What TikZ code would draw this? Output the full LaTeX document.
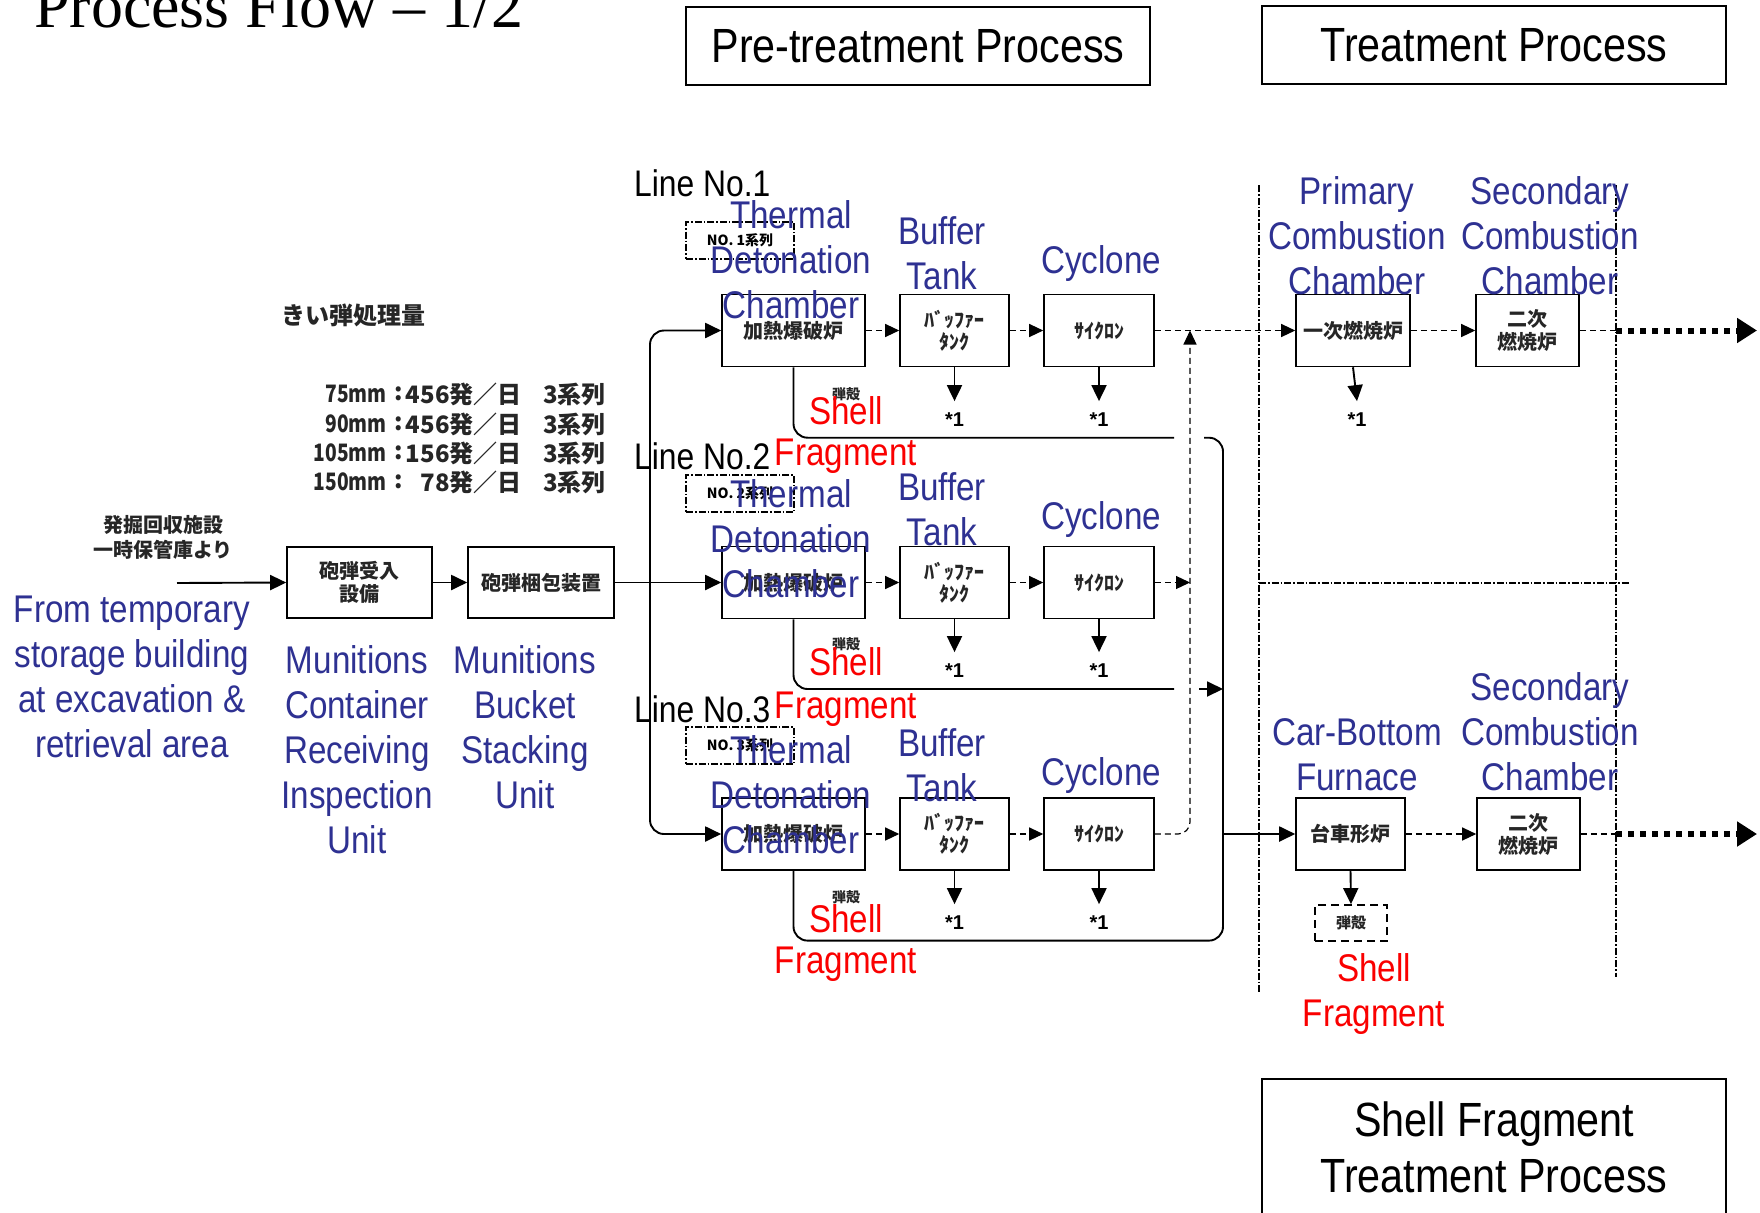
\documentclass[tikz,border=0pt]{standalone}
\usepackage{fontspec}
\setmainfont{Liberation Sans}
\newfontfamily\mynar[FakeStretch=0.86]{Liberation Sans}
\newfontfamily\myserif{Liberation Serif}
\newfontfamily\myjp{Noto Sans CJK JP}
\newfontfamily\myjpn[FakeStretch=0.8]{Noto Sans CJK JP}
\usetikzlibrary{arrows.meta}
\definecolor{lblue}{RGB}{46,49,146}
\definecolor{lred}{RGB}{250,0,0}
\tikzset{
  jbox/.style={draw, line width=1.6pt, inner sep=0pt, align=center, text=black!85,
    font=\myjp\bfseries\fontsize{20}{23}\selectfont, minimum height=72pt},
  hbox/.style={draw, line width=1.8pt, inner sep=0pt, minimum width=464pt, minimum height=78pt,
    font=\mynar\fontsize{48}{56}\selectfont},
  conn/.style={line width=1.9pt, -{Triangle[length=16pt,width=15pt]}},
  plainln/.style={line width=1.9pt},
  dsh/.style={line width=1.2pt, dash pattern=on 6pt off 4pt},
  dsharr/.style={dsh, -{Triangle[length=14pt,width=13pt]}},
  thickdot/.style={line width=6pt, dash pattern=on 6pt off 6pt, -{Triangle[length=20pt,width=24pt]}},
  sepline/.style={line width=1.1pt, dash pattern=on 7pt off 2pt on 1.5pt off 2pt},
  nobox/.style={draw, line width=1.1pt, dash pattern=on 7pt off 2pt on 1.5pt off 2pt,
    minimum width=108pt, minimum height=37pt, inner sep=0pt, font=\myjp\bfseries\fontsize{14}{14}\selectfont},
  lab/.style={text=lblue, font=\mynar\fontsize{38.6}{45}\selectfont, align=center, inner sep=0pt},
  rlab/.style={text=lred, font=\mynar\fontsize{38.6}{45}\selectfont, align=center, inner sep=0pt},
  blk/.style={text=black, font=\mynar\fontsize{37}{45}\selectfont, inner sep=0pt},
  ast/.style={font=\bfseries\fontsize{20}{20}\selectfont, inner sep=2pt, outer sep=10pt},
  jsm/.style={font=\myjp\bfseries\fontsize{14}{14}\selectfont, inner sep=0pt, text=black!85},
  jtxt/.style={font=\myjp\bfseries\fontsize{24}{30}\selectfont, inner sep=0pt, text=black!85},
  mmtxt/.style={font=\myjpn\bfseries\fontsize{24}{30}\selectfont, inner sep=0pt, text=black!85},
}
\begin{document}
\begin{tikzpicture}[x=1pt,y=-1pt]
\fill[white] (0,0) rectangle (1760,1212);
\useasboundingbox (0,0) rectangle (1760,1212);

% title and headers
\node[anchor=base west, inner sep=0pt, font=\myserif\fontsize{64}{64}\selectfont] (title) at (34,28) {Process Flow – 1/2};
\node[hbox] (pre) at (918,46) {Pre-treatment Process};
\node[hbox] (trt) at (1494,45) {Treatment Process};
\draw[line width=1.8pt] (1262,1079) rectangle (1726,1262);
\node[align=center, inner sep=0pt, font=\mynar\fontsize{48}{56}\selectfont] (sft) at (1494,1147) {Shell Fragment\\Treatment Process};

% throughput text
\node[jtxt, anchor=west] (qt) at (281,315) {きい弾処理量};
\foreach \y/\a/\b in {394/75mm/456, 424/90mm/456, 453/105mm/156, 482/150mm/78}{
  \node[mmtxt, anchor=east] at (387,\y) {\a};
  \node[jtxt] at (399,\y) {:};
  \node[jtxt, anchor=east] at (522,\y) {\b 発／日};
  \node[jtxt, anchor=west] at (543,\y) {3系列};
}
\node[align=center, font=\myjp\bfseries\fontsize{20}{25}\selectfont, inner sep=0pt, text=black!85] (src) at (163,537) {発掘回収施設\\一時保管庫より};

% separators
\draw[sepline] (1259,185) -- (1259,993);
\draw[sepline] (1616,185) -- (1616,977);
\draw[sepline] (1259,583) -- (1630,583);

% left boxes
\node[jbox, minimum width=145pt, minimum height=71pt] (recv) at (359.5,582.5) {砲弾受入\\設備};
\node[jbox, minimum width=146pt, minimum height=71pt] (pack) at (541,582.5) {砲弾梱包装置};

% line boxes
\foreach \r/\y in {1/330.5, 2/582.5, 3/834}{
  \node[jbox, minimum width=143pt] (d\r) at (793.5,\y) {加熱爆破炉};
  \node[jbox, minimum width=109pt, font=\myjp\bfseries\fontsize{20}{22}\selectfont] (b\r) at (954.5,\y) {ﾊﾞｯﾌｧｰ\\ﾀﾝｸ};
  \node[jbox, minimum width=110pt] (c\r) at (1099,\y) {ｻｲｸﾛﾝ};
  \draw[dsharr] (d\r.east) -- (b\r.west);
  \draw[dsharr] (b\r.east) -- (c\r.west);
}
\node[nobox] (n1) at (740,240.5) {NO. 1系列};
\node[nobox] (n2) at (740,493.5) {NO. 2系列};
\node[nobox] (n3) at (740,745.5) {NO. 3系列};

% *1 outputs
\node[ast] (ab1) at (954.5,420) {*1};
\node[ast] (ac1) at (1099,420) {*1};
\node[ast] (ab2) at (954.5,671) {*1};
\node[ast] (ac2) at (1099,671) {*1};
\node[ast] (ab3) at (954.5,923) {*1};
\node[ast] (ac3) at (1099,923) {*1};
\foreach \r in {1,2,3}{
  \draw[conn] (b\r.south) -- (ab\r.north);
  \draw[conn] (c\r.south) -- (ac\r.north);
}
\node[jsm] (k1) at (846,394) {弾殻};
\node[jsm] (k2) at (846,644) {弾殻};
\node[jsm] (k3) at (846,897) {弾殻};

% treatment boxes
\node[jbox, minimum width=114pt] (p1) at (1353,330.5) {一次燃焼炉};
\node[jbox, minimum width=103pt, font=\myjp\bfseries\fontsize{20}{23}\selectfont] (s1) at (1527.5,330.5) {二次\\燃焼炉};
\node[jbox, minimum width=109pt] (cb) at (1350.5,834) {台車形炉};
\node[jbox, minimum width=103pt, font=\myjp\bfseries\fontsize{20}{23}\selectfont] (s3) at (1528.5,834) {二次\\燃焼炉};
\node[draw, line width=1.8pt, dash pattern=on 8pt off 5pt, minimum width=72pt, minimum height=36pt, inner sep=0pt,
  font=\myjp\bfseries\fontsize{15}{15}\selectfont, text=black!85] (shb) at (1351,923) {弾殻};
\node[ast] (ap1) at (1357,420) {*1};

% coordinates
\coordinate (in) at (177,583);
\coordinate (bus) at (650,582.5);
\coordinate (g1a) at (1174,437.7);
\coordinate (g1b) at (1204,437.7);
\coordinate (g2a) at (1174,689);
\coordinate (g2b) at (1199,689);
\coordinate (g2c) at (1223,689);
\coordinate (brc) at (1223,940.6);
\coordinate (cbj) at (1223,834);
\coordinate (j1) at (1190,330.5);
\coordinate (j2) at (1190,582.5);
\coordinate (o1) at (1616,330.5);
\coordinate (e1) at (1757,330.5);
\coordinate (o3) at (1616,834);
\coordinate (e3) at (1757,834);

% solid connectors
\draw[conn] (in) -- (recv.west);
\draw[conn] (recv.east) -- (pack.west);
\draw[conn] (pack.east) -- (d2.west);
\draw[conn, rounded corners=14pt] (bus) |- (d1.west);
\draw[conn, rounded corners=14pt] (bus) |- (d3.west);
\draw[plainln, rounded corners=14pt] (d1.south) |- (g1a);
\draw[plainln, rounded corners=14pt] (d2.south) |- (g2a);
\draw[conn] (g2b) -- (g2c);
\draw[plainln, rounded corners=14pt] (d3.south) |- (brc) |- (g1b);
\draw[conn] (cbj) -- (cb.west);
\draw[conn] (p1.south) -- (ap1.north);
\draw[conn] (cb.south) -- (shb.north);

% dashed connectors
\draw[dsharr] (c1.east) -- (p1.west);
\draw[dsharr] (c2.east) -- (j2);
\draw[dsharr, rounded corners=12pt] (c3.east) -| (j1);
\draw[dsharr] (p1.east) -- (s1.west);
\draw[dsharr] (cb.east) -- (s3.west);
\draw[dsh] (s1.east) -- (o1);
\draw[dsh] (s3.east) -- (o3);
\draw[thickdot] (o1) -- (e1);
\draw[thickdot] (o3) -- (e3);

% labels
\node[blk, anchor=west] (ln1) at (634,183) {Line No.1};
\node[blk, anchor=west] (ln2) at (634,456) {Line No.2};
\node[blk, anchor=west] (ln3) at (634,709) {Line No.3};
\node[lab] (t1) at (791,260) {Thermal\\Detonation\\Chamber};
\node[lab] (t2) at (791,539) {Thermal\\Detonation\\Chamber};
\node[lab] (t3) at (791,795) {Thermal\\Detonation\\Chamber};
\node[lab] (bt1) at (942,253.5) {Buffer\\Tank};
\node[lab] (bt2) at (942,509.5) {Buffer\\Tank};
\node[lab] (bt3) at (942,765.5) {Buffer\\Tank};
\node[lab] (cy1) at (1101,264) {Cyclone};
\node[lab] (cy2) at (1101,520) {Cyclone};
\node[lab] (cy3) at (1101,776) {Cyclone};
\node[rlab] (sh1) at (846,411) {Shell};
\node[rlab] (fr1) at (846,456) {Fragment};
\node[rlab] (sh2) at (846,662) {Shell};
\node[rlab] (fr2) at (846,709) {Fragment};
\node[rlab] (sh3) at (846,919) {Shell};
\node[rlab] (fr3) at (846,964) {Fragment};
\node[lab] (lfrom) at (132,676.5) {From temporary\\storage building\\at excavation \&\\retrieval area};
\node[lab] (lrecv) at (357,750) {Munitions\\Container\\Receiving\\Inspection\\Unit};
\node[lab] (lpack) at (525,727.5) {Munitions\\Bucket\\Stacking\\Unit};
\node[lab] (lp1) at (1357,236) {Primary\\Combustion\\Chamber};
\node[lab] (ls1) at (1550,236) {Secondary\\Combustion\\Chamber};
\node[lab] (lcb) at (1357,754.5) {Car-Bottom\\Furnace};
\node[lab] (ls3) at (1550,732) {Secondary\\Combustion\\Chamber};
\node[rlab] (lsf) at (1374,994) {Shell\\Fragment};
\end{tikzpicture}
\end{document}
